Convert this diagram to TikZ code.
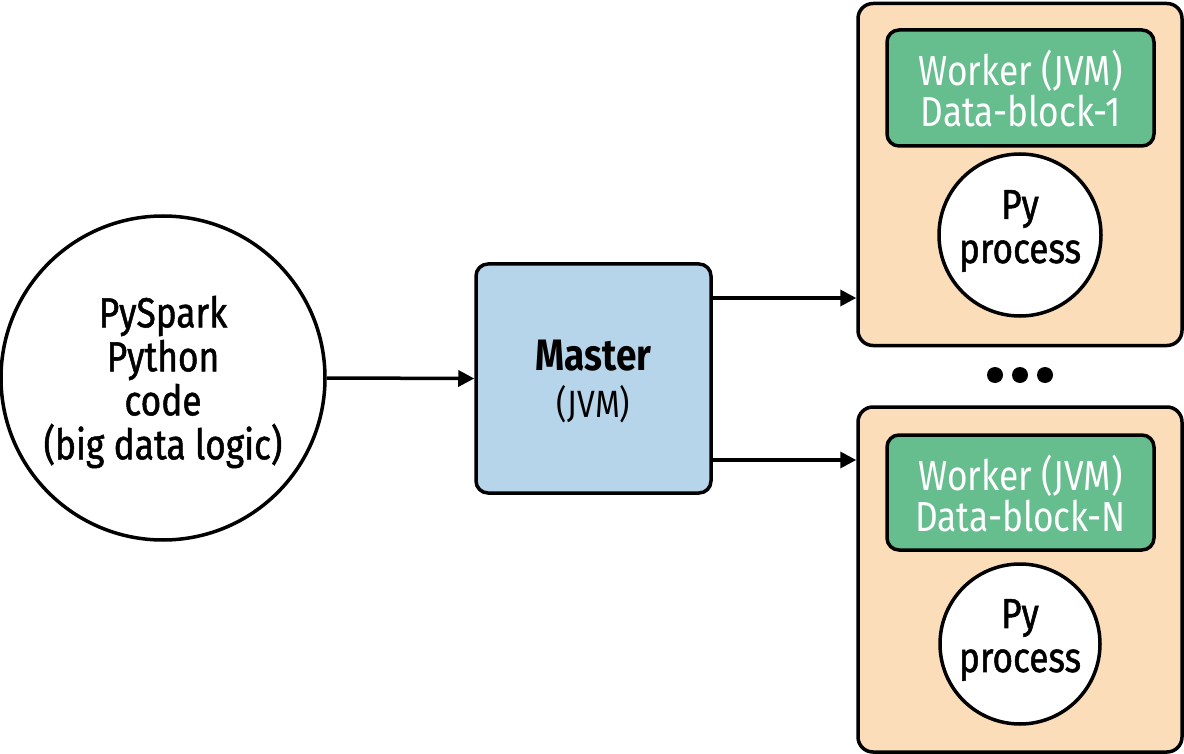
\documentclass[tikz,border=0pt]{standalone}
\usepackage{fontspec}
\setmainfont{Fira Sans}[FakeStretch=0.84]
\newfontfamily\medfont{Fira Sans}[FakeStretch=0.84,FakeBold=1.2]
\usetikzlibrary{arrows.meta}
\definecolor{mblue}{HTML}{B6D5EA}
\definecolor{peach}{HTML}{FBDDBA}
\definecolor{wgreen}{HTML}{66BD8E}
\tikzset{
  outl/.style={draw=black, line width=3.5pt},
  conn/.style={line width=3.5pt, -{Triangle[length=16pt,width=16pt]}},
  bigtxt/.style={font=\medfont\fontsize{42}{47}\selectfont, align=center, text=black},
  wtxt/.style={font=\fontsize{42}{41}\selectfont, align=center, text=white},
}
\begin{document}
\begin{tikzpicture}[x=1pt,y=-1pt]
\useasboundingbox (0,0) rectangle (1184,754);
% PySpark circle
\node[outl, circle, fill=white, minimum size=324pt, inner sep=0pt] (py) at (163,378) {};
\node[bigtxt] (pytxt) at (163,382) {PySpark\\[-3pt]Python\\[-3pt]code\\[-3pt](big data logic)};
% Master
\node[outl, fill=mblue, rounded corners=12pt, minimum width=235pt, minimum height=229pt, inner sep=0pt] (master) at (593.5,378.5) {};
\node[font=\fontsize{44}{44}\selectfont\bfseries] (mtxt) at (593.5,356) {Master};
\node[font=\fontsize{38}{38}\selectfont] (mjvm) at (593.5,404) {(JVM)};
% Worker 1
\node[outl, fill=peach, rounded corners=15pt, minimum width=324pt, minimum height=342pt, inner sep=0pt] (w1) at (1020,174.5) {};
\node[outl, fill=wgreen, rounded corners=12pt, minimum width=267pt, minimum height=116pt, inner sep=0pt] (g1) at (1020.5,88) {};
\node[wtxt] (g1t) at (1020.5,89) {Worker (JVM)\\Data-block-1};
\node[outl, circle, fill=white, minimum size=162pt, inner sep=0pt] (c1) at (1020,235) {};
\node[bigtxt] (c1t) at (1020,231) {Py\\[-3pt]process};
% dots
\foreach \xx/\nm in {995/d1,1020/d2,1045/d3}
  \node[circle, fill=black, minimum size=16pt, inner sep=0pt] (\nm) at (\xx,375) {};
% Worker 2
\node[outl, fill=peach, rounded corners=15pt, minimum width=324pt, minimum height=345pt, inner sep=0pt] (w2) at (1020,579.5) {};
\node[outl, fill=wgreen, rounded corners=12pt, minimum width=267pt, minimum height=115pt, inner sep=0pt] (g2) at (1020.5,492.5) {};
\node[wtxt] (g2t) at (1020.5,494) {Worker (JVM)\\Data-block-N};
\node[outl, circle, fill=white, minimum size=160pt, inner sep=0pt] (c2) at (1020,644) {};
\node[bigtxt] (c2t) at (1020,640) {Py\\[-3pt]process};
% connectors
\draw[conn] (py.east) -- (master.west);
\draw[conn] (master.east |- 0,298) -- (w1.west |- 0,298);
\draw[conn] (master.east |- 0,460) -- (w2.west |- 0,460);
\end{tikzpicture}
\end{document}
